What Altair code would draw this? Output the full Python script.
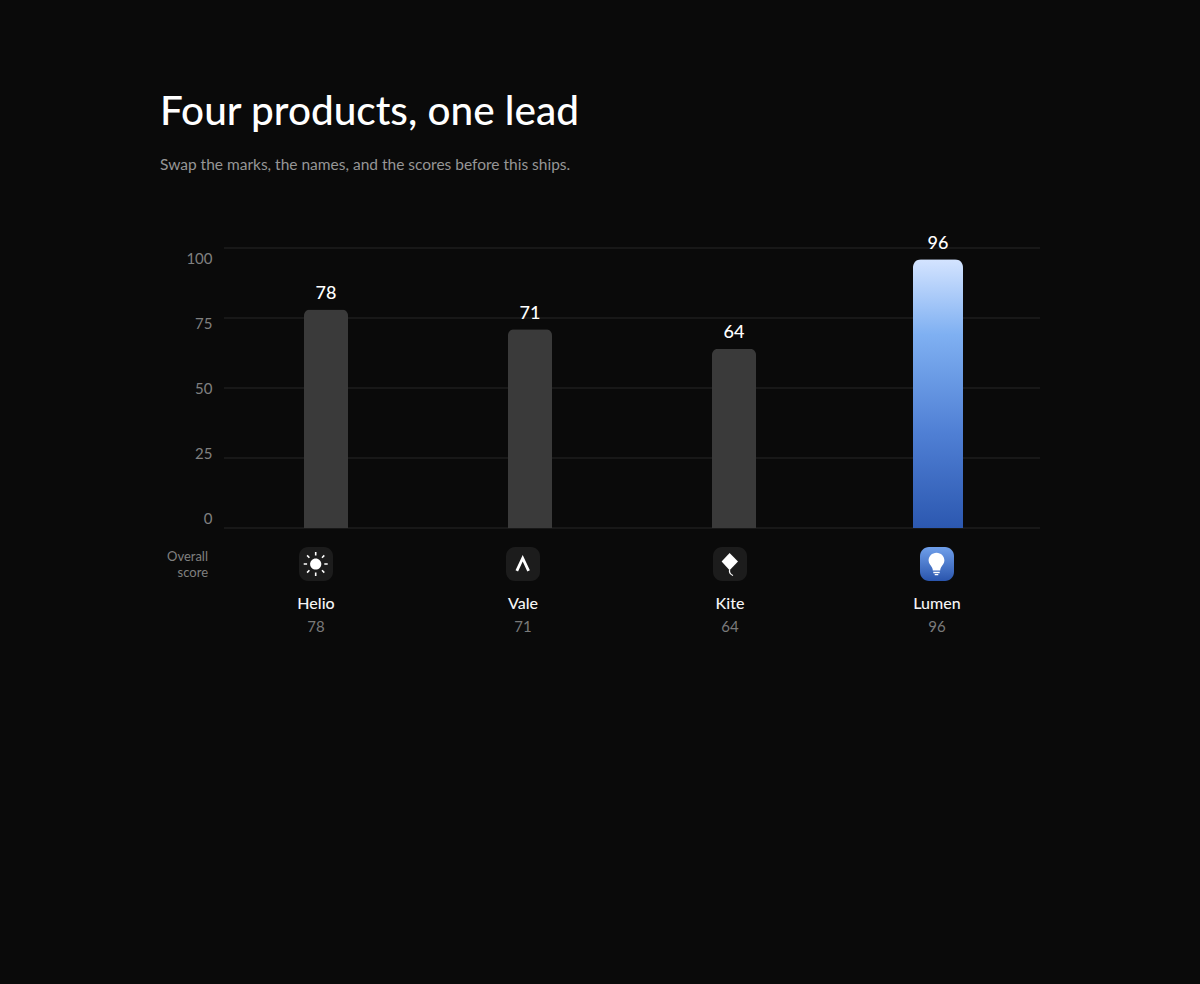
import altair as alt
import pandas as pd

names = ["Helio", "Vale", "Kite", "Lumen"]
scores = [78, 71, 64, 96]
ticks = [0, 25, 50, 75, 100]
TITLE = "Four products, one lead"
SUBTITLE = "Swap the marks, the names, and the scores before this ships."

BG = "#0a0a0a"
FONT = "Lato"
GRID = "#262626"

df = pd.DataFrame({"name": names, "score": scores})
others = df[df.name != "Lumen"]
lead = df[df.name == "Lumen"]
tick_df = pd.DataFrame({"tick": ticks})

x_bar = alt.X("name:N", sort=names, axis=None, scale=alt.Scale(domain=names, paddingInner=0, paddingOuter=0))
y_val = alt.Y("score:Q", axis=None, scale=alt.Scale(domain=[0, 100]))
x_row = alt.X("name:N", axis=None, scale=alt.Scale(domain=names, range=[-11.5, 816.5], paddingInner=0, paddingOuter=0))

grid = alt.Chart(tick_df).mark_rule(color=GRID, strokeWidth=1).encode(
    y=alt.Y("tick:Q", axis=None, scale=alt.Scale(domain=[0, 100])),
    x=alt.value(0), x2=alt.value(816),
)

tick_axis = alt.Chart(tick_df).mark_point(opacity=0).encode(
    y=alt.Y("tick:Q", scale=alt.Scale(domain=[0, 100], range=[270, 10]),
            axis=alt.Axis(orient="left", values=ticks, title=None, domain=False, ticks=False,
                          grid=False, labelPadding=12, labelFont=FONT, labelFontSize=15,
                          labelColor="#808080", labelFontWeight=400, labelFlush=False)),
    x=alt.value(0),
)

bars = alt.Chart(others).mark_bar(size=44, color="#3a3a3a", cornerRadiusTopLeft=6, cornerRadiusTopRight=6).encode(
    x=x_bar, y=y_val)

lead_bar = alt.Chart(lead).mark_bar(
    size=50, cornerRadiusTopLeft=8, cornerRadiusTopRight=8,
    color=alt.Gradient(gradient="linear", x1=0, y1=0, x2=0, y2=1, stops=[
        alt.GradientStop(offset=0, color="#d4e4ff"),
        alt.GradientStop(offset=0.28, color="#7fb0f2"),
        alt.GradientStop(offset=0.65, color="#4f7fd4"),
        alt.GradientStop(offset=1, color="#2c58b0"),
    ])).encode(x=x_bar, y=y_val)

value_labels = alt.Chart(df).mark_text(
    font=FONT, fontSize=18, fontWeight=500, color="#ffffff", baseline="middle", dy=-15.5
).encode(x=x_bar, y=y_val, text="score:Q")

tile_y = alt.value(316)
tiles = alt.Chart(others).mark_rect(width=34, height=34, cornerRadius=9, color="#1c1c1c").encode(x=x_row, y=tile_y)
lead_tile = alt.Chart(lead).mark_rect(
    width=34, height=34, cornerRadius=9,
    color=alt.Gradient(gradient="linear", x1=0, y1=0, x2=0, y2=1, stops=[
        alt.GradientStop(offset=0, color="#6f9fea"),
        alt.GradientStop(offset=1, color="#2a55ad"),
    ])).encode(x=x_row, y=tile_y)

SUN_DISC = "M-0.3 -5.6A5.6 5.6 0 1 1 -0.3 5.6A5.6 5.6 0 1 1 -0.3 -5.6Z"
SUN_RAYS = ("M-0.3 -12L-0.3 -8.6M-0.3 8.6L-0.3 12M-12.3 0L-8.9 0M8.3 0L11.7 0"
            "M-8.9 -8.6L-6.6 -6.3M6 6.3L8.3 8.6M-8.9 8.6L-6.6 6.3M6 -6.3L8.3 -8.6")
CARET = "M-6.2 6.8L-0.3 -5.8L5.6 6.8"
KITE = "M-0.4 -10.9L8 -2.6L-0.4 6.2L-8.4 -2.6Z"
KITE_TAIL = "M-0.4 6C-0.9 8.5 0.6 10.5 3 11.5"
BULB = ("M-0.5 -11.2C4 -11.2 7.4 -7.6 7.4 -3.4C7.4 -0.3 5.3 1.4 4 3.4C3.4 4.4 3.2 5.4 3.2 6.6L-4.2 6.6"
        "C-4.2 5.4 -4.4 4.4 -5 3.4C-6.3 1.4 -8.4 -0.3 -8.4 -3.4C-8.4 -7.6 -5 -11.2 -0.5 -11.2Z"
        "M-3.7 7.8L2.7 7.8L2.7 9.2L-3.7 9.2ZM-2.3 10L1.3 10L1.3 11.2L-2.3 11.2Z")

def glyph(name, path, stroked=False, width=1.6):
    d = df[df.name == name]
    if stroked:
        m = alt.Chart(d).mark_point(shape=path, size=4, filled=False, stroke="#ffffff", strokeWidth=width,
                                    opacity=1, strokeCap="butt", strokeJoin="miter")
    else:
        m = alt.Chart(d).mark_point(shape=path, size=4, filled=True, fill="#ffffff", opacity=1, strokeWidth=0)
    return m.encode(x=x_row, y=tile_y)

icons = [glyph("Helio", SUN_DISC), glyph("Helio", SUN_RAYS, True, 1.6), glyph("Vale", CARET, True, 2.8),
         glyph("Kite", KITE), glyph("Kite", KITE_TAIL, True, 1.3), glyph("Lumen", BULB)]

name_labels = alt.Chart(df).mark_text(font=FONT, fontSize=16, fontWeight=500, color="#f5f5f5", baseline="middle").encode(
    x=x_row, y=alt.value(356), text="name:N")
score_labels = alt.Chart(df).mark_text(font=FONT, fontSize=15, color="#7a7a7a", baseline="middle").encode(
    x=x_row, y=alt.value(379), text="score:Q")
row_label = alt.Chart(pd.DataFrame({"t": [["Overall", "score"]]})).mark_text(
    font=FONT, fontSize=13, color="#808080", align="right", baseline="middle", lineHeight=16
).encode(x=alt.value(-16), y=alt.value(309), text="t")

chart = alt.layer(
    grid, tick_axis, bars, lead_bar, value_labels, tiles, lead_tile, *icons, name_labels, score_labels, row_label
).resolve_scale(x="independent", y="independent").properties(
    width=816, height=280,
    background=BG,
    padding={"left": 216, "top": 240, "right": 152, "bottom": 448},
    autosize=alt.AutoSizeParams(type="none"),
    title=alt.TitleParams(text=TITLE, subtitle=SUBTITLE, anchor="start", frame="group", dx=-64,
                          font=FONT, fontSize=40.5, fontWeight=500, color="#ffffff",
                          subtitleFont=FONT, subtitleFontSize=15.5, subtitleColor="#969696",
                          subtitlePadding=25, offset=61),
).configure_view(stroke=None)

chart.save("out.html", embed_options={"renderer": "svg", "actions": False,
                                      "defaultStyle": "html,body{background:#0a0a0a;}"})
